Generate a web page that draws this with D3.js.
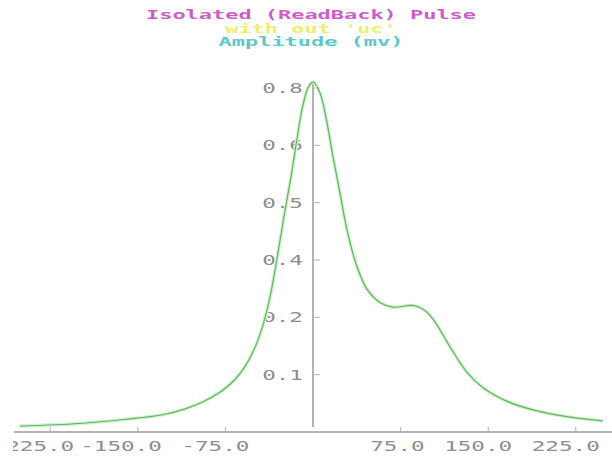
<!DOCTYPE html>
<html>
<head>
<meta charset="utf-8">
<script src="https://cdn.jsdelivr.net/npm/d3@7"></script>
<style>
  html, body { margin: 0; padding: 0; background: #fff; }
  svg { display: block; }
  .pix { font-family: "DejaVu Sans Mono", "Liberation Mono", monospace; }
</style>
</head>
<body>
<div id="chart-wrap"></div>
<script>
// title lines and their colours
var titleLines = ["Isolated (ReadBack) Pulse", "with out 'uc'", "Amplitude (mv)"];
var titleColors = ["#cc5ccc", "#eeee70", "#5cc8c8"];

// pulse samples: time offset and amplitude
var pulseX = [-251, -200, -160, -130, -110, -95, -80, -68, -58, -50,
  -43, -37, -31, -25, -19, -14, -9, -4, 0,
  6, 12, 17.1, 23.1, 29.1, 37.7, 46.3, 57.4, 68.6, 83.1,
  89.1, 97.7, 102.9, 108.9, 117.4, 132, 145.7, 166.3, 188.6, 217.7, 248];
var pulseY = [0.014, 0.020, 0.030, 0.040, 0.054, 0.070, 0.093, 0.120, 0.155, 0.197,
  0.250, 0.315, 0.405, 0.505, 0.598, 0.685, 0.765, 0.812, 0.824,
  0.798, 0.728, 0.648, 0.563, 0.476, 0.389, 0.336, 0.305, 0.294, 0.298,
  0.296, 0.282, 0.265, 0.240, 0.200, 0.140, 0.104, 0.072, 0.052, 0.036, 0.026];

// axis ticks (the y labels are truncated, as the original program prints them)
var xTicks = [-225, -150, -75, 75, 150, 225];
var xTickLabels = ["-225.0", "-150.0", "-75.0", "75.0", "150.0", "225.0"];
var yTicks = [0.135, 0.27, 0.405, 0.54, 0.675, 0.81];
var yTickLabels = ["0.1", "0.2", "0.4", "0.5", "0.6", "0.8"];

var width = 612, height = 457;
var charW = 13.6;

var x = d3.scaleLinear().domain([-256, 256]).range([14, 612]);
var y = d3.scaleLinear().domain([0, 0.81]).range([432, 88]);

var svg = d3.select("#chart-wrap")
  .append("svg")
  .attr("width", width)
  .attr("height", height);

svg.append("defs").append("clipPath")
  .attr("id", "clip-left")
  .append("rect")
  .attr("x", 13).attr("y", 0)
  .attr("width", width - 13).attr("height", height);

// titles
svg.selectAll("text.title")
  .data(titleLines)
  .enter()
  .append("text")
  .attr("class", "title pix")
  .attr("x", 311)
  .attr("y", function(d, i) { return 19 + i * 13.5; })
  .attr("text-anchor", "middle")
  .attr("font-size", 13)
  .attr("font-weight", "bold")
  .attr("fill", function(d, i) { return titleColors[i]; })
  .attr("textLength", function(d) { return d.length * 13.2; })
  .attr("lengthAdjust", "spacingAndGlyphs")
  .text(function(d) { return d; });

// x axis
var xAxis = svg.append("g").attr("class", "axis axis--x");

xAxis.append("line")
  .attr("x1", x.range()[0]).attr("x2", x.range()[1])
  .attr("y1", y(0)).attr("y2", y(0))
  .attr("stroke", "#b4b4b4")
  .attr("stroke-width", 2);

xAxis.selectAll("line.tick")
  .data(xTicks)
  .enter()
  .append("line")
  .attr("class", "tick")
  .attr("x1", function(d) { return x(d); })
  .attr("x2", function(d) { return x(d); })
  .attr("y1", y(0) - 5)
  .attr("y2", y(0))
  .attr("stroke", "#b0b0b0");

xAxis.append("g")
  .attr("clip-path", "url(#clip-left)")
  .selectAll("text")
  .data(xTicks)
  .enter()
  .append("text")
  .attr("class", "pix")
  .attr("x", function(d) { return x(d) + 24; })
  .attr("y", 451)
  .attr("text-anchor", "end")
  .attr("font-size", 14)
  .attr("fill", "#8e8e8e")
  .attr("textLength", function(d, i) { return xTickLabels[i].length * charW; })
  .attr("lengthAdjust", "spacingAndGlyphs")
  .text(function(d, i) { return xTickLabels[i]; });

// y axis (vertical line through x = 0)
var yAxis = svg.append("g").attr("class", "axis axis--y");

yAxis.append("line")
  .attr("x1", x(0)).attr("x2", x(0))
  .attr("y1", 82).attr("y2", 427)
  .attr("stroke", "#a0a0a0")
  .attr("stroke-width", 1.6);

yAxis.selectAll("line.tick")
  .data(yTicks)
  .enter()
  .append("line")
  .attr("class", "tick")
  .attr("x1", x(0))
  .attr("x2", x(0) + 7)
  .attr("y1", function(d) { return y(d); })
  .attr("y2", function(d) { return y(d); })
  .attr("stroke", "#b0b0b0");

yAxis.selectAll("text")
  .data(yTicks)
  .enter()
  .append("text")
  .attr("class", "pix")
  .attr("x", x(0) - 10)
  .attr("y", function(d) { return y(d) + 5; })
  .attr("text-anchor", "end")
  .attr("font-size", 14)
  .attr("fill", "#8e8e8e")
  .attr("textLength", function(d, i) { return yTickLabels[i].length * charW; })
  .attr("lengthAdjust", "spacingAndGlyphs")
  .text(function(d, i) { return yTickLabels[i]; });

// pulse curve
var line = d3.line()
  .x(function(d) { return x(d[0]); })
  .y(function(d) { return y(d[1]); })
  .curve(d3.curveCatmullRom.alpha(0.5));

var pts = pulseX.map(function(v, i) { return [v, pulseY[i]]; });

svg.append("path")
  .datum(pts)
  .attr("fill", "none")
  .attr("stroke", "#d4f0d4")
  .attr("stroke-width", 3.5)
  .attr("d", line);

svg.append("path")
  .datum(pts)
  .attr("class", "line")
  .attr("fill", "none")
  .attr("stroke", "#5cb85c")
  .attr("stroke-width", 1.2)
  .attr("d", line);
</script>
</body>
</html>
